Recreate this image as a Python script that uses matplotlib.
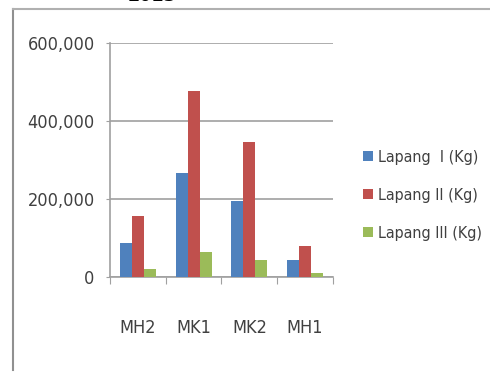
import numpy as np
import matplotlib.pyplot as plt
from matplotlib.lines import Line2D
from matplotlib.ticker import FuncFormatter

plt.rcParams['font.family'] = ['DejaVu Sans']
plt.rcParams['font.stretch'] = 'condensed'

musim = ["MH2", "MK1", "MK2", "MH1"]
lapang_1 = [87000, 267000, 195000, 44000]
lapang_2 = [156000, 477000, 345000, 79000]
lapang_3 = [20000, 64000, 44000, 10000]
labels = ["Lapang  I (Kg)", "Lapang II (Kg)", "Lapang III (Kg)"]
colors = ["#4F81BD", "#C0504D", "#9BBB59"]

fig = plt.figure(figsize=(4.9, 3.74), dpi=100)
ax = fig.add_axes([0.2245, 0.2594, 0.455, 0.6257])

x = np.arange(len(musim))
w = 0.215
for i, (vals, lab, c) in enumerate(zip([lapang_1, lapang_2, lapang_3], labels, colors)):
    ax.bar(x + (i - 1) * w, vals, w, color=c, label=lab, zorder=3)

ax.set_xlim(-0.5, len(musim) - 0.5)
ax.set_ylim(0, 600000)
ax.set_yticks([0, 200000, 400000, 600000])
ax.yaxis.set_major_formatter(FuncFormatter(lambda v, p: f"{int(v):,}"))
ax.yaxis.grid(True, color="#a0a0a0", linewidth=1.2, zorder=0)

ax.set_xticks(np.arange(-0.5, len(musim), 1))
ax.set_xticklabels([])
ax.set_xticks(x, minor=True)
ax.set_xticklabels(musim, minor=True)
ax.tick_params(axis="x", which="major", length=5, color="#a0a0a0", direction="out")
ax.tick_params(axis="x", which="minor", length=0, pad=30, labelsize=13, labelcolor="#404040")
ax.tick_params(axis="y", length=3, color="#a0a0a0", labelsize=13, labelcolor="#404040", pad=8)

for s in ["top", "right"]:
    ax.spines[s].set_visible(False)
for s in ["left", "bottom"]:
    ax.spines[s].set_color("#a0a0a0")
    ax.spines[s].set_linewidth(1.2)

ax.legend(loc="center left", bbox_to_anchor=(0.725, 0.478), bbox_transform=fig.transFigure,
          frameon=False, fontsize=11.5, labelcolor="#404040", handlelength=0.6,
          handleheight=0.6, handletextpad=0.3, labelspacing=1.45, borderpad=0)

# frame of the sheet
fig.add_artist(Line2D([13 / 490, 13 / 490], [1 - 9 / 374, 1 - 370 / 374],
                      transform=fig.transFigure, color="#909090", linewidth=1.5))
fig.add_artist(Line2D([13 / 490, 1.0], [1 - 9 / 374, 1 - 9 / 374],
                      transform=fig.transFigure, color="#b0b0b0", linewidth=1.5))
fig.text(0.31, 1.012, "2013", fontsize=14, fontweight="bold", ha="center", va="center")

fig.savefig("out.png", dpi=100)
